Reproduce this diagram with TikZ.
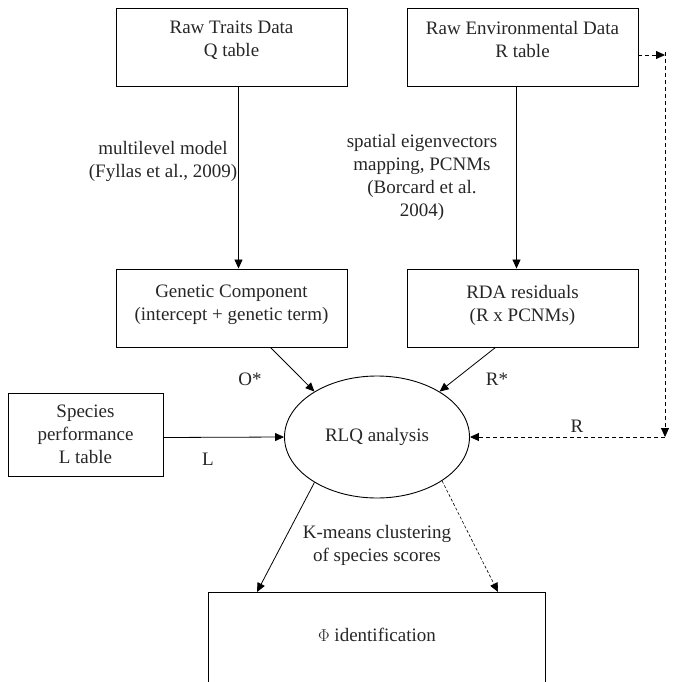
\documentclass[tikz,border=0pt]{standalone}
\usepackage{fontspec}
\setmainfont{Liberation Serif}
\usetikzlibrary{arrows.meta,shapes.geometric}
\begin{document}
\begin{tikzpicture}[x=1pt,y=-1pt,
  every node/.style={font=\rmfamily\fontsize{19}{23}\selectfont, text=black!85},
  box/.style={draw, line width=0.9pt, inner sep=0pt},
  lab/.style={align=center, inner sep=0pt},
  arr/.style={-{Triangle[length=9pt,width=8pt]}, line width=0.8pt},
  darr/.style={-{Triangle[length=9pt,width=8pt]}, line width=0.8pt, dash pattern=on 4pt off 3pt},
  farr/.style={-{Triangle[length=9pt,width=8pt]}, line width=0.6pt, dash pattern=on 3pt off 2pt}]
\useasboundingbox (0,0) rectangle (672,682);
\node[box, minimum width=231pt, minimum height=78pt, label={[lab,yshift=7pt]center:Raw Traits Data\\Q table}] (traits) at (231.5,47) {};
\node[box, minimum width=231pt, minimum height=78pt, label={[lab,yshift=7pt]center:Raw Environmental Data\\R table}] (env) at (522.5,47) {};
\node[box, minimum width=231pt, minimum height=78pt, label={[lab,yshift=3pt]center:Genetic Component\\(intercept + genetic term)}] (gen) at (231.5,308) {};
\node[box, minimum width=231pt, minimum height=78pt, label={[lab,yshift=3pt]center:RDA residuals\\(R x PCNMs)}] (rda) at (522.5,308) {};
\node[box, minimum width=155pt, minimum height=83pt, label={[lab]center:Species\\performance\\L table}] (spec) at (85.5,434.5) {};
\node[draw, ellipse, line width=0.9pt, minimum width=185pt, minimum height=122pt, inner sep=0pt] (rlq) at (377,437) {RLQ analysis};
\node[box, minimum width=337pt, minimum height=100pt, anchor=north] (phi) at (377,592) {};
\node[lab] (phitext) at (377,635) {$\Phi$ identification};
\coordinate (c1) at (665,55);
\coordinate (c2) at (665,437);
\node[lab] (ml) at (163,161) {multilevel model\\(Fyllas et al., 2009)};
\node[lab] (sp) at (422,177) {spatial eigenvectors\\mapping, PCNMs\\(Borcard et al.\\2004)};
\node[lab] (km) at (377,545) {K-means clustering\\of species scores};
\node[lab] (os) at (250,379) {O*};
\node[lab] (rs) at (497,379) {R*};
\node[lab] (ll) at (208,459) {L};
\node[lab] (rr) at (577,426) {R};
\draw[arr] ([xshift=7pt]traits.south) -- ([xshift=7pt]gen.north);
\draw[arr] ([xshift=-6pt]env.south) -- ([xshift=-6pt]rda.north);
\draw[arr] ([xshift=39pt]gen.south) -- (rlq.144);
\draw[arr] ([xshift=-27pt]rda.south) -- (rlq.36);
\draw[arr] ([yshift=-3pt]spec.east) -- (rlq.west);
\draw[darr] (env.east |- c1) -- (c1);
\draw[darr] ([yshift=3pt]c1) -- (c2);
\draw[darr] (c2) -- (rlq.east);
\draw[arr] (rlq.216) -- ([xshift=-120pt]phi.north);
\draw[farr] (rlq.326) -- ([xshift=121pt]phi.north);
\end{tikzpicture}
\end{document}
